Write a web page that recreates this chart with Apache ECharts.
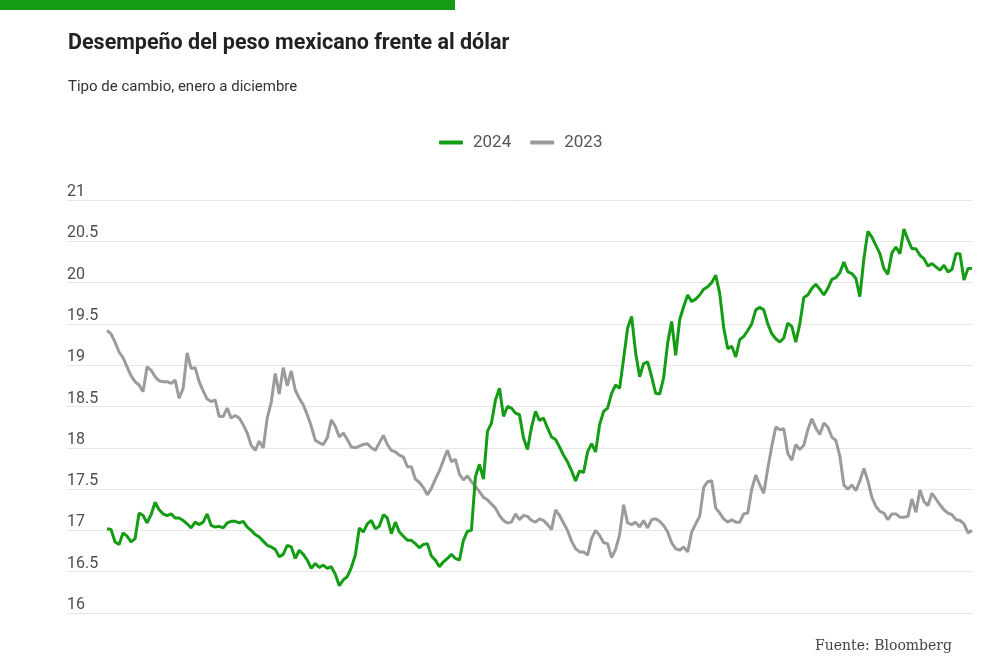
<!DOCTYPE html>
<html>
<head>
<meta charset="utf-8">
<title>Desempeño del peso mexicano frente al dólar</title>
<script src="https://cdn.jsdelivr.net/npm/echarts@6/dist/echarts.min.js"></script>
<style>
    html, body { margin: 0; padding: 0; background: #fff; }
    #chart { width: 1000px; height: 666px; }
</style>
</head>
<body>
<div id="chart"></div>
<script>
// Series names (legend order)
const SERIES_NAMES = ['2024', '2023'];

// Y axis ticks
const Y_TICKS = [16, 16.5, 17, 17.5, 18, 18.5, 19, 19.5, 20, 20.5, 21];

// Tipo de cambio 2024, one value per sample, enero -> diciembre
const VALUES_2024 = [
    17.02, 17.01, 16.86, 16.83, 16.97, 16.93, 16.86, 16.90, 17.21, 17.18,
    17.09, 17.19, 17.34, 17.25, 17.20, 17.18, 17.20, 17.15, 17.15, 17.12,
    17.08, 17.03, 17.10, 17.07, 17.10, 17.20, 17.06, 17.04, 17.05, 17.03,
    17.09, 17.11, 17.11, 17.09, 17.11, 17.04, 17.00, 16.95, 16.92, 16.87,
    16.82, 16.80, 16.77, 16.68, 16.71, 16.82, 16.80, 16.66, 16.76, 16.71,
    16.64, 16.54, 16.60, 16.55, 16.58, 16.54, 16.56, 16.47, 16.33, 16.40,
    16.44, 16.55, 16.70, 17.03, 16.98, 17.08, 17.12, 17.02, 17.05, 17.19,
    17.15, 16.96, 17.10, 16.98, 16.93, 16.88, 16.88, 16.84, 16.79, 16.83,
    16.84, 16.69, 16.64, 16.56, 16.62, 16.66, 16.71, 16.66, 16.64, 16.88,
    16.99, 17.00, 17.65, 17.80, 17.62, 18.20, 18.30, 18.58, 18.72, 18.38,
    18.50, 18.48, 18.42, 18.40, 18.12, 17.98, 18.25, 18.44, 18.33, 18.36,
    18.24, 18.13, 18.10, 18.01, 17.91, 17.83, 17.72, 17.60, 17.72, 17.70,
    17.95, 18.05, 17.95, 18.28, 18.44, 18.48, 18.66, 18.76, 18.72, 19.08,
    19.45, 19.59, 19.15, 18.86, 19.02, 19.04, 18.86, 18.66, 18.65, 18.85,
    19.27, 19.53, 19.12, 19.55, 19.71, 19.85, 19.77, 19.80, 19.85, 19.92,
    19.95, 20.00, 20.09, 19.87, 19.45, 19.20, 19.23, 19.10, 19.31, 19.35,
    19.42, 19.50, 19.67, 19.70, 19.67, 19.50, 19.38, 19.32, 19.28, 19.33,
    19.51, 19.47, 19.28, 19.50, 19.82, 19.85, 19.93, 19.98, 19.92, 19.85,
    19.93, 20.04, 20.06, 20.12, 20.25, 20.13, 20.11, 20.05, 19.83, 20.29,
    20.62, 20.55, 20.45, 20.35, 20.17, 20.10, 20.36, 20.43, 20.35, 20.65,
    20.52, 20.41, 20.41, 20.33, 20.29, 20.20, 20.23, 20.19, 20.15, 20.21,
    20.13, 20.16, 20.35, 20.35, 20.03, 20.17, 20.17
];

// Tipo de cambio 2023, same sampling
const VALUES_2023 = [
    19.42, 19.38, 19.28, 19.16, 19.09, 18.98, 18.87, 18.80, 18.76, 18.68,
    18.98, 18.94, 18.86, 18.81, 18.80, 18.80, 18.78, 18.82, 18.60, 18.72,
    19.15, 18.96, 18.97, 18.80, 18.69, 18.59, 18.56, 18.58, 18.38, 18.38,
    18.48, 18.36, 18.39, 18.36, 18.28, 18.18, 18.03, 17.97, 18.08, 18.00,
    18.36, 18.55, 18.90, 18.65, 18.97, 18.75, 18.93, 18.70, 18.60, 18.52,
    18.40, 18.26, 18.09, 18.06, 18.04, 18.12, 18.34, 18.26, 18.13, 18.18,
    18.10, 18.01, 18.00, 18.02, 18.04, 18.05, 18.00, 17.97, 18.06, 18.15,
    18.04, 17.97, 17.95, 17.91, 17.89, 17.77, 17.77, 17.62, 17.58, 17.52,
    17.43, 17.51, 17.62, 17.72, 17.85, 17.97, 17.83, 17.86, 17.68, 17.61,
    17.66, 17.59, 17.53, 17.47, 17.40, 17.37, 17.32, 17.27, 17.18, 17.12,
    17.09, 17.10, 17.20, 17.13, 17.18, 17.17, 17.12, 17.10, 17.14, 17.12,
    17.07, 17.01, 17.25, 17.18, 17.09, 17.00, 16.87, 16.78, 16.74, 16.74,
    16.70, 16.90, 17.00, 16.94, 16.85, 16.84, 16.67, 16.77, 16.95, 17.31,
    17.09, 17.07, 17.10, 17.04, 17.12, 17.03, 17.13, 17.14, 17.11, 17.06,
    16.98, 16.85, 16.78, 16.76, 16.80, 16.74, 16.98, 17.08, 17.17, 17.52,
    17.59, 17.60, 17.27, 17.21, 17.14, 17.10, 17.13, 17.10, 17.10, 17.20,
    17.21, 17.50, 17.67, 17.55, 17.45, 17.75, 18.02, 18.25, 18.22, 18.23,
    17.93, 17.85, 18.04, 17.98, 18.03, 18.22, 18.35, 18.24, 18.16, 18.30,
    18.25, 18.13, 18.09, 17.90, 17.55, 17.50, 17.55, 17.48, 17.60, 17.75,
    17.60, 17.40, 17.29, 17.23, 17.21, 17.13, 17.20, 17.20, 17.16, 17.16,
    17.17, 17.38, 17.22, 17.49, 17.35, 17.30, 17.45, 17.38, 17.31, 17.25,
    17.21, 17.19, 17.13, 17.12, 17.08, 16.97, 17.00
];

const COLORS = {
    green: '#149c14',
    gray: '#9b9b9b',
    grid: '#e6e6e6',
    label: '#4d4d4d'
};

const FONT = 'Roboto, "Noto Sans", sans-serif';

function toPairs(values) {
    return values.map((v, i) => [i, v]);
}

const lastIndex = Math.max(VALUES_2024.length, VALUES_2023.length) - 1;

const chart = echarts.init(document.getElementById('chart'), null, { renderer: 'canvas' });

const option = {
    animation: false,
    backgroundColor: '#fff',
    title: [
        {
            text: 'Desempeño del peso mexicano frente al dólar',
            left: 63,
            top: 28,
            textStyle: { fontFamily: FONT, fontSize: 21.5, fontWeight: 'bold', color: '#222' }
        },
        {
            text: 'Tipo de cambio, enero a diciembre',
            left: 63,
            top: 75,
            textStyle: { fontFamily: FONT, fontSize: 15, fontWeight: 'normal', color: '#333' }
        },
        {
            text: 'Fuente: Bloomberg',
            right: 43,
            top: 634,
            textStyle: { fontFamily: '"DejaVu Serif", serif', fontSize: 14, fontWeight: 'normal', color: '#444' }
        }
    ],
    graphic: [
        {
            type: 'rect',
            left: 0,
            top: 0,
            shape: { width: 455, height: 10 },
            style: { fill: COLORS.green }
        }
    ],
    legend: {
        data: SERIES_NAMES,
        left: 434,
        top: 129,
        icon: 'roundRect',
        itemWidth: 24,
        itemHeight: 4,
        itemGap: 19,
        textStyle: { fontFamily: FONT, fontSize: 17, color: '#555', padding: [0, 0, 0, 5] }
    },
    grid: {
        left: 67,
        right: 28,
        top: 200,
        bottom: 53,
        containLabel: false
    },
    xAxis: {
        type: 'value',
        min: -10,
        max: lastIndex,
        show: false
    },
    yAxis: {
        type: 'value',
        min: Y_TICKS[0],
        max: Y_TICKS[Y_TICKS.length - 1],
        interval: Y_TICKS[1] - Y_TICKS[0],
        axisLine: { show: false },
        axisTick: { show: false },
        splitLine: { lineStyle: { color: COLORS.grid, width: 1 } },
        axisLabel: {
            inside: true,
            margin: 0,
            verticalAlign: 'bottom',
            padding: [0, 0, 0, 0],
            fontFamily: FONT,
            fontSize: 16,
            color: COLORS.label
        }
    },
    series: [
        {
            name: '2023',
            type: 'line',
            data: toPairs(VALUES_2023),
            showSymbol: false,
            symbol: 'none',
            lineStyle: { width: 3, color: COLORS.gray },
            itemStyle: { color: COLORS.gray }
        },
        {
            name: '2024',
            type: 'line',
            data: toPairs(VALUES_2024),
            showSymbol: false,
            symbol: 'none',
            lineStyle: { width: 3, color: COLORS.green },
            itemStyle: { color: COLORS.green }
        }
    ]
};

chart.setOption(option);
window.addEventListener('resize', chart.resize);
</script>
</body>
</html>
